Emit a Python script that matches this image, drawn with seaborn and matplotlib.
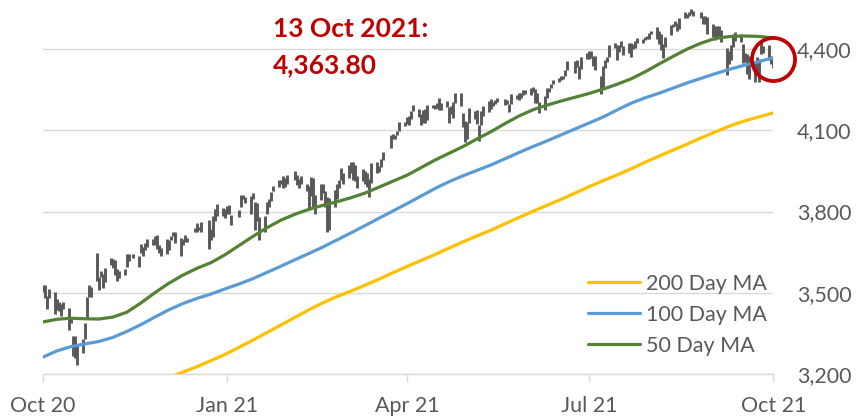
import pandas as pd
import matplotlib.pyplot as plt
import seaborn as sns

# daily high / low of the index, 13 Oct 2020 - 13 Oct 2021
bar_high = [
    3527, 3527, 3489, 3515, 3502, 3476, 3465, 3460, 3466, 3444, 3409, 3342, 3342, 3305,
    3330, 3389, 3486, 3529, 3521, 3646, 3557, 3581, 3569, 3593, 3628, 3624, 3620, 3586, 3582, 3589, 3642, 3644, 3644, 3637,
    3679, 3670, 3682, 3699, 3697, 3708, 3713, 3678, 3665, 3697, 3695, 3711, 3725, 3726, 3703, 3698, 3712, 3703, 3740, 3756, 3744, 3760,
    3770, 3735, 3783, 3811, 3827, 3812, 3810, 3820, 3823, 3788, 3804, 3860, 3861, 3852, 3859, 3870, 3836, 3830, 3778,
    3784, 3836, 3847, 3872, 3894, 3916, 3918, 3931, 3925, 3935, 3950, 3933, 3921, 3931, 3903, 3895, 3928, 3925, 3862,
    3902, 3903, 3875, 3852, 3851, 3881, 3903, 3917, 3960, 3944, 3970, 3981, 3983, 3971, 3930, 3956, 3949, 3943, 3919, 3979, 3981, 3969, 3994,
    4021, 4083, 4087, 4083, 4098, 4129, 4131, 4148, 4151, 4173, 4192, 4180, 4159, 4175, 4179, 4195, 4194, 4193, 4201, 4218, 4199,
    4209, 4187, 4190, 4203, 4238, 4237, 4162, 4135, 4131, 4183, 4170, 4175, 4118, 4172, 4188, 4209, 4214, 4203, 4213, 4218,
    4217, 4212, 4198, 4234, 4232, 4236, 4238, 4249, 4249, 4255, 4258, 4251, 4236, 4204, 4226, 4256, 4256, 4272, 4286, 4292, 4300, 4302,
    4321, 4356, 4356, 4361, 4338, 4372, 4387, 4393, 4394, 4376, 4376, 4302, 4337, 4360, 4370, 4415, 4422, 4416, 4415, 4429, 4412,
    4422, 4424, 4417, 4429, 4440, 4437, 4445, 4449, 4461, 4468, 4480, 4467, 4454, 4418, 4444, 4489, 4492, 4502, 4496, 4513, 4537, 4531,
    4537, 4546, 4541, 4535, 4522, 4521, 4520, 4492, 4485, 4486, 4486, 4472, 4402, 4394, 4416, 4457, 4463, 4457, 4419, 4384, 4383,
    4375, 4356, 4369, 4365, 4429, 4412, 4415, 4375, 4372,
]
bar_low = [
    3501, 3480, 3441, 3482, 3420, 3435, 3433, 3416, 3440, 3363, 3388, 3268, 3259, 3234,
    3279, 3328, 3405, 3484, 3484, 3543, 3511, 3557, 3518, 3538, 3601, 3593, 3567, 3544, 3556, 3567, 3595, 3619, 3630, 3594,
    3646, 3636, 3657, 3670, 3678, 3678, 3660, 3645, 3634, 3644, 3659, 3695, 3710, 3685, 3636, 3676, 3689, 3689, 3723, 3723, 3730, 3726,
    3663, 3696, 3705, 3764, 3784, 3785, 3776, 3790, 3792, 3749, 3780, 3816, 3845, 3830, 3791, 3847, 3733, 3765, 3694,
    3726, 3791, 3816, 3837, 3874, 3892, 3902, 3885, 3890, 3900, 3917, 3898, 3885, 3902, 3874, 3805, 3857, 3815, 3789,
    3843, 3868, 3818, 3723, 3730, 3818, 3848, 3885, 3917, 3903, 3924, 3943, 3918, 3914, 3886, 3912, 3901, 3889, 3853, 3907, 3944, 3945, 3966,
    3992, 4034, 4068, 4068, 4083, 4096, 4114, 4125, 4120, 4140, 4173, 4150, 4119, 4126, 4128, 4138, 4182, 4177, 4181, 4176, 4174,
    4187, 4128, 4159, 4147, 4201, 4188, 4111, 4056, 4069, 4126, 4143, 4125, 4062, 4119, 4151, 4169, 4180, 4190, 4197, 4203,
    4192, 4198, 4167, 4198, 4216, 4210, 4218, 4230, 4234, 4230, 4240, 4202, 4201, 4164, 4175, 4218, 4240, 4255, 4271, 4280, 4286, 4288,
    4300, 4322, 4313, 4335, 4289, 4328, 4365, 4365, 4367, 4337, 4322, 4233, 4259, 4329, 4352, 4372, 4405, 4360, 4389, 4408, 4379,
    4384, 4372, 4400, 4402, 4421, 4424, 4433, 4437, 4436, 4456, 4437, 4420, 4397, 4367, 4407, 4451, 4482, 4486, 4468, 4473, 4514, 4513,
    4522, 4528, 4521, 4513, 4493, 4493, 4457, 4446, 4435, 4439, 4447, 4427, 4305, 4346, 4360, 4407, 4429, 4425, 4347, 4351, 4307,
    4288, 4279, 4303, 4278, 4381, 4386, 4360, 4343, 4330,
]
market_holidays = ["2020-11-26", "2020-12-25", "2021-01-01", "2021-01-18", "2021-02-15",
                   "2021-04-02", "2021-05-31", "2021-07-05", "2021-09-06"]

# moving averages (Tuesdays from 13 Oct 2020, then 13 Oct 2021)
ma200 = [3080, 3088, 3095, 3102, 3110, 3120, 3130, 3146, 3165, 3186,
         3207, 3227, 3249, 3272, 3298, 3325, 3353, 3381, 3409, 3437,
         3463, 3486, 3506, 3528, 3550, 3574, 3597, 3619, 3641, 3665,
         3688, 3710, 3731, 3755, 3778, 3801, 3823, 3845, 3868, 3892,
         3914, 3935, 3958, 3982, 4005, 4027, 4049, 4072, 4094, 4115,
         4133, 4148, 4162, 4164]
ma100 = [3262, 3285, 3301, 3311, 3320, 3335, 3357, 3382, 3410, 3437,
         3460, 3479, 3495, 3514, 3532, 3552, 3575, 3598, 3622, 3645,
         3669, 3695, 3721, 3748, 3775, 3802, 3829, 3857, 3885, 3910,
         3932, 3952, 3972, 3995, 4018, 4040, 4061, 4083, 4105, 4127,
         4149, 4175, 4200, 4220, 4237, 4256, 4275, 4292, 4309, 4325,
         4339, 4352, 4366, 4367]
ma50 = [3392, 3402, 3406, 3404, 3403, 3410, 3428, 3462, 3500, 3535,
        3565, 3590, 3611, 3640, 3674, 3708, 3740, 3768, 3790, 3808,
        3823, 3836, 3851, 3868, 3890, 3912, 3934, 3962, 3990, 4015,
        4040, 4068, 4095, 4125, 4153, 4176, 4193, 4208, 4222, 4236,
        4252, 4270, 4290, 4316, 4345, 4373, 4400, 4422, 4439, 4446,
        4448, 4447, 4442, 4441]

last_date = "2021-10-13"
last_close = 4363.80
tick_dates = ["2020-10-13", "2021-01-13", "2021-04-13", "2021-07-13", "2021-10-13"]
tick_labels = ["Oct 20", "Jan 21", "Apr 21", "Jul 21", "Oct 21"]
y_ticks = [3200, 3500, 3800, 4100, 4400]

days = pd.bdate_range("2020-10-13", "2021-10-13", freq="C", holidays=market_holidays)
bars = pd.DataFrame({"date": days, "high": bar_high, "low": bar_low})
ma_dates = list(pd.date_range("2020-10-13", periods=53, freq="7D")) + [pd.Timestamp(last_date)]
ma = pd.DataFrame({"date": ma_dates, "200 Day MA": ma200,
                   "100 Day MA": ma100, "50 Day MA": ma50})

sns.set_theme(style="white")
plt.rcParams["font.family"] = ["Lato", "DejaVu Sans"]
grey = "#595959"

fig = plt.figure(figsize=(8.66, 4.17), dpi=100)
ax = fig.add_axes([42.7 / 866, 1 - 374 / 417, 730.6 / 866, 368.3 / 417])

ax.vlines(bars["date"], bars["low"], bars["high"], color=grey, lw=2.1, zorder=2)

colors = {"200 Day MA": "#FFC000", "100 Day MA": "#5B9BD5", "50 Day MA": "#548235"}
for name, col in colors.items():
    sns.lineplot(data=ma, x="date", y=name, color=col, lw=2.3, ax=ax, label=name, zorder=3)

ax.plot(pd.Timestamp(last_date), last_close, "o", ms=31, mfc="none", mec="#C00000",
        mew=2.7, clip_on=False, zorder=5)

ax.set_xlim(pd.Timestamp(tick_dates[0]), pd.Timestamp(tick_dates[-1]))
ax.set_ylim(3200, 4560)
ax.set_xticks(pd.to_datetime(tick_dates))
ax.set_xticklabels(tick_labels)
ax.set_yticks(y_ticks)
ax.set_yticklabels([f"{v:,}" for v in y_ticks])
ax.yaxis.tick_right()
ax.set_xlabel("")
ax.set_ylabel("")
ax.grid(axis="y", color="#D9D9D9", lw=1)
for s in ["top", "left", "right"]:
    ax.spines[s].set_visible(False)
ax.spines["bottom"].set_color("#D9D9D9")
ax.spines["bottom"].set_linewidth(1)
ax.tick_params(axis="x", bottom=True, length=5.5, width=1, color="#D9D9D9",
               pad=10.5, labelsize=15.5, labelcolor=grey)
ax.tick_params(axis="y", right=False, length=0, pad=17, labelsize=15.5, labelcolor=grey)

ax.legend(loc="upper left", bbox_to_anchor=(588 / 866, 1 - 274 / 417),
          bbox_transform=fig.transFigure, frameon=False, fontsize=15.5,
          labelcolor=grey, handlelength=2.4, handletextpad=0.3, labelspacing=0.5,
          borderpad=0, borderaxespad=0)

fig.text(273 / 866, 1 - 37 / 417, "13 Oct 2021:", color="#C00000", fontsize=19,
         fontweight="bold", va="baseline")
fig.text(273 / 866, 1 - 73 / 417, f"{last_close:,.2f}", color="#C00000", fontsize=19,
         fontweight="bold", va="baseline")

fig.savefig("out.png", dpi=100)
